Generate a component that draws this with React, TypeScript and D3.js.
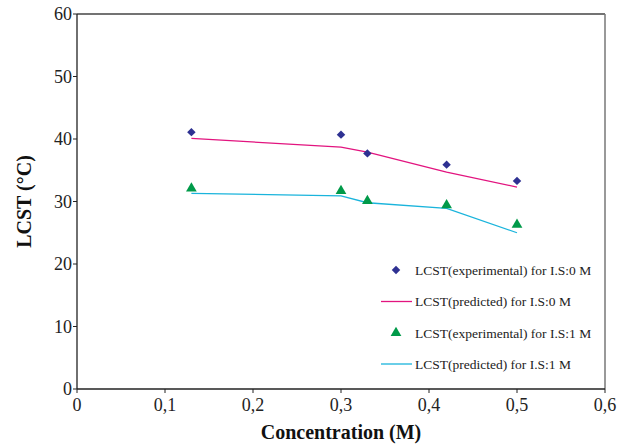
import React from "react";
import * as d3 from "d3";

const width = 627;
const height = 447;
const margin = { top: 14, right: 22, bottom: 58, left: 77 };

const concentrations = [0.13, 0.3, 0.33, 0.42, 0.5];
const expIS0 = [41.1, 40.7, 37.7, 35.9, 33.3];
const predIS0 = [40.1, 38.7, 37.9, 34.7, 32.3];
const expIS1 = [32.1, 31.7, 30.1, 29.4, 26.3];
const predIS1 = [31.3, 30.9, 29.8, 28.9, 25.0];

const xTicks = [0, 0.1, 0.2, 0.3, 0.4, 0.5, 0.6];
const yTicks = [0, 10, 20, 30, 40, 50, 60];

const legendLabels = [
  "LCST(experimental) for I.S:0 M",
  "LCST(predicted) for I.S:0 M",
  "LCST(experimental) for I.S:1 M",
  "LCST(predicted) for I.S:1 M",
];

const navy = "#2e3192";
const pink = "#e2147f";
const green = "#009a49";
const cyan = "#1ab4dc";
const font = "'Liberation Serif', 'Times New Roman', serif";

const xScale = d3.scaleLinear().domain([0, 0.6]).range([margin.left, width - margin.right]);
const yScale = d3.scaleLinear().domain([0, 60]).range([height - margin.bottom, margin.top]);

// square turned 45° gives the even diamond of the original
const diamond = d3.symbol().type(d3.symbolSquare).size(36);
const triangle = d3.symbol().type(d3.symbolTriangle).size(50);

const line = d3
  .line<[number, number]>()
  .x(d => xScale(d[0]))
  .y(d => yScale(d[1]));

const fmt = (v: number) => (v === 0 ? "0" : v.toFixed(1).replace(".", ","));

export default function App() {
  const x0 = xScale(0);
  const x1 = xScale(0.6);
  const y0 = yScale(0);
  const y1 = yScale(60);
  const legendY = [270, 301.5, 333, 364];

  return (
    <svg width={width} height={height} style={{ display: "block", position: "absolute", left: 0, top: 0 }}>
      <rect width={width} height={height} fill="#fff" />
      {/* frame */}
      <line x1={x0} y1={y1} x2={x1} y2={y1} stroke="#444" strokeWidth={1.3} />
      <line x1={x1} y1={y1} x2={x1} y2={y0} stroke="#777" strokeWidth={1.5} />
      <line x1={x0} y1={y1} x2={x0} y2={y0} stroke="#222" strokeWidth={1.3} />
      <line x1={x0} y1={y0} x2={x1} y2={y0} stroke="#222" strokeWidth={1.3} />

      <g fontFamily={font}>
        {yTicks.map(t => (
          <g key={"y" + t}>
            <line x1={x0 - 4} x2={x0} y1={yScale(t)} y2={yScale(t)} stroke="#222" />
            <text x={x0 - 5} y={yScale(t)} dy="0.35em" textAnchor="end" fontSize={18} fill="#222">
              {t}
            </text>
          </g>
        ))}
        {xTicks.map(t => (
          <g key={"x" + t}>
            <line x1={xScale(t)} x2={xScale(t)} y1={y0} y2={y0 + 4} stroke="#222" />
            <text x={xScale(t)} y={y0 + 22} textAnchor="middle" fontSize={18} fill="#222">
              {fmt(t)}
            </text>
          </g>
        ))}

        <text x={(x0 + x1) / 2} y={y0 + 50} textAnchor="middle" fontSize={20} fontWeight="bold" fill="#111">
          Concentration (M)
        </text>
        <text
          transform={`translate(24, ${(y0 + y1) / 2}) rotate(-90)`}
          textAnchor="middle"
          dy="0.35em"
          fontSize={20}
          fontWeight="bold"
          fill="#111"
        >
          LCST (°C)
        </text>
      </g>

      <path
        d={line(concentrations.map((c, i) => [c, predIS0[i]]) as [number, number][]) || ""}
        fill="none"
        stroke={pink}
        strokeWidth={1.3}
      />
      <path
        d={line(concentrations.map((c, i) => [c, predIS1[i]]) as [number, number][]) || ""}
        fill="none"
        stroke={cyan}
        strokeWidth={1.3}
      />
      {concentrations.map((c, i) => (
        <path
          key={"d" + i}
          d={diamond() || ""}
          transform={`translate(${xScale(c)},${yScale(expIS0[i])}) rotate(45)`}
          fill={navy}
        />
      ))}
      {concentrations.map((c, i) => (
        <path key={"t" + i} d={triangle() || ""} transform={`translate(${xScale(c)},${yScale(expIS1[i])})`} fill={green} />
      ))}

      {/* legend */}
      <g fontFamily={font} fontSize={13.5} fill="#222">
        <path d={diamond() || ""} transform={`translate(396,${legendY[0]}) rotate(45)`} fill={navy} />
        <line x1={381} x2={412} y1={legendY[1]} y2={legendY[1]} stroke={pink} strokeWidth={1.3} />
        <path d={triangle() || ""} transform={`translate(396,${legendY[2]})`} fill={green} />
        <line x1={381} x2={412} y1={legendY[3]} y2={legendY[3]} stroke={cyan} strokeWidth={1.3} />
        {legendLabels.map((l, i) => (
          <text key={l} x={415} y={legendY[i]} dy="0.35em">
            {l}
          </text>
        ))}
      </g>
    </svg>
  );
}
